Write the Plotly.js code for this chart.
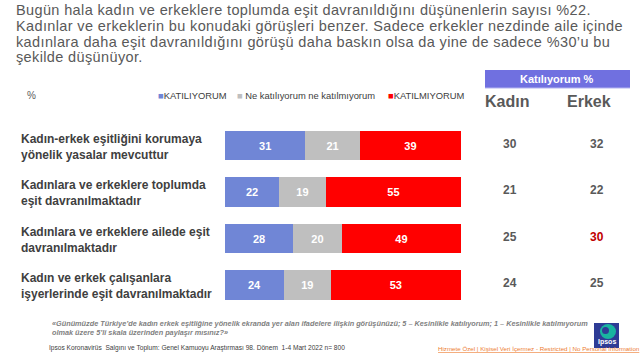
<!DOCTYPE html>
<html><head><meta charset="utf-8">
<script src="https://cdn.plot.ly/plotly-3.0.1.min.js"></script>
<style>html,body{margin:0;padding:0;background:#fff}#chart{width:640px;height:360px}</style>
</head><body><div id="chart"></div>
<script>
// ---- data ----
const categories = ["yasalar", "toplumda", "ailede", "isyerlerinde"];
const categoryLabels = [
  "Kadın-erkek eşitliğini korumaya<br>yönelik yasalar mevcuttur",
  "Kadınlara ve erkeklere toplumda<br>eşit davranılmaktadır",
  "Kadınlara ve erkeklere ailede eşit<br>davranılmaktadır",
  "Kadın ve erkek çalışanlara<br>işyerlerinde eşit davranılmaktadır"
];
const seriesNames = ["KATILIYORUM", "Ne katılıyorum ne katılmıyorum", "KATILMIYORUM"];
const katiliyorum = [31, 22, 28, 24];
const neKatiliyorumNeKatilmiyorum = [21, 19, 20, 19];
const katilmiyorum = [39, 55, 49, 53];
const kadinKatiliyorum = [30, 21, 25, 24];
const erkekKatiliyorum = [32, 22, 30, 25];
const erkekHighlight = [false, false, true, false];

const titleLines = [
  "Bugün hala kadın ve erkeklere toplumda eşit davranıldığını düşünenlerin sayısı %22.",
  "Kadınlar ve erkeklerin bu konudaki görüşleri benzer. Sadece erkekler nezdinde aile içinde",
  "kadınlara daha eşit davranıldığını görüşü daha baskın olsa da yine de sadece %30’u bu",
  "şekilde düşünüyor."
];

// ---- styling ----
const W = 640, H = 360;
const px = x => x / W;
const py = y => 1 - y / H;
const FONT = "Liberation Sans, Arial, sans-serif";
const colors = ["#7086D6", "#BFBFBF", "#FF0000"];
const seriesValues = [katiliyorum, neKatiliyorumNeKatilmiyorum, katilmiyorum];

const traces = seriesValues.map((vals, i) => ({
  type: "bar", orientation: "h",
  name: seriesNames[i],
  y: categories, x: vals,
  text: vals.map(String),
  textposition: "inside", insidetextanchor: "middle", textangle: 0, constraintext: "none",
  textfont: {family: FONT, size: 11, color: "#FFFFFF", weight: "bold"},
  marker: {color: colors[i], line: {width: 0}},
  hoverinfo: "skip", showlegend: false
}));

const annotations = [];
// title lines
const titleY = [10, 26, 42, 57];
titleLines.forEach((t, i) => {
  annotations.push({
    xref: "paper", yref: "paper", x: px(14), y: py(titleY[i]), xanchor: "left", yanchor: "middle",
    text: t, align: "left", showarrow: false, font: {family: FONT, size: 14.5, color: "#595959"}
  });
});
// category labels
categories.forEach((c, i) => {
  annotations.push({
    xref: "paper", yref: "y", x: px(19), y: c, xanchor: "left", yanchor: "middle",
    text: categoryLabels[i], align: "left", showarrow: false, yshift: -1,
    font: {family: FONT, size: 12, color: "#404040", weight: "bold"}
  });
  annotations.push({
    xref: "paper", yref: "y", x: px(510), y: c, xanchor: "center", yanchor: "middle",
    text: String(kadinKatiliyorum[i]), showarrow: false, yshift: 2,
    font: {family: FONT, size: 12, color: "#595959", weight: "bold"}
  });
  annotations.push({
    xref: "paper", yref: "y", x: px(597), y: c, xanchor: "center", yanchor: "middle",
    text: String(erkekKatiliyorum[i]), showarrow: false, yshift: 2,
    font: {family: FONT, size: 12, color: erkekHighlight[i] ? "#C00000" : "#595959", weight: "bold"}
  });
});

// legend (drawn as text)
const legendX = [156, 235, 386];
seriesNames.forEach((n, i) => {
  annotations.push({
    xref: "paper", yref: "paper", x: px(legendX[i]), y: py(96), xanchor: "left", yanchor: "middle",
    text: "<span style='color:" + colors[i] + "'>■</span>" + (i === 1 ? " " : "") + n,
    showarrow: false, font: {family: FONT, size: 9.4, color: "#404040"}
  });
});
annotations.push({xref: "paper", yref: "paper", x: px(25), y: py(96), xanchor: "left", yanchor: "middle",
  text: "%", showarrow: false, font: {family: FONT, size: 10, color: "#595959"}});

// header
annotations.push({xref: "paper", yref: "paper", x: px(557), y: py(79), xanchor: "center", yanchor: "middle",
  text: "Katılıyorum %", showarrow: false, font: {family: FONT, size: 11, color: "#FFFFFF", weight: "bold"}});
annotations.push({xref: "paper", yref: "paper", x: px(507), y: py(101), xanchor: "center", yanchor: "middle",
  text: "Kadın", showarrow: false, font: {family: FONT, size: 16, color: "#595959", weight: "bold"}});
annotations.push({xref: "paper", yref: "paper", x: px(589), y: py(101), xanchor: "center", yanchor: "middle",
  text: "Erkek", showarrow: false, font: {family: FONT, size: 16, color: "#595959", weight: "bold"}});

// footer
annotations.push({xref: "paper", yref: "paper", x: px(50), y: py(317), xanchor: "left", yanchor: "top",
  text: "«Günümüzde Türkiye’de kadın erkek eşitliğine yönelik ekranda yer alan ifadelere ilişkin görüşünüzü; 5 – Kesinlikle katılıyorum; 1 – Kesinlikle katılmıyorum<br>olmak üzere 5’li skala üzerinden paylaşır mısınız?»",
  align: "left", showarrow: false,
  font: {family: FONT, size: 7.3, color: "#7F7F7F", weight: "bold", style: "italic"}});
annotations.push({xref: "paper", yref: "paper", x: px(47), y: py(348), xanchor: "left", yanchor: "middle",
  text: "Ipsos Koronavirüs  Salgını ve Toplum: Genel Kamuoyu Araştırması 98. Dönem  1-4 Mart 2022 n= 800",
  showarrow: false, font: {family: FONT, size: 6.6, color: "#404040"}});
annotations.push({xref: "paper", yref: "paper", x: px(436), y: py(348), xanchor: "left", yanchor: "middle",
  text: "<u>Hizmete Özel | Kişisel Veri İçermez - Restricted | No Personal Information</u>",
  showarrow: false, font: {family: FONT, size: 6.2, color: "#ED7D31"}});
annotations.push({xref: "paper", yref: "paper", x: px(606.5), y: py(342), xanchor: "center", yanchor: "middle",
  text: "Ipsos", showarrow: false, font: {family: FONT, size: 7, color: "#FFFFFF", weight: "bold"}});

const shapes = [
  {type: "rect", xref: "paper", yref: "paper", x0: px(485), x1: px(630), y0: py(70), y1: py(88),
   fillcolor: "#7070E0", line: {width: 0}, layer: "below"},
  {type: "line", xref: "paper", yref: "paper", x0: px(485), x1: px(630), y0: py(88), y1: py(88),
   line: {color: "#B4B4F0", width: 1}},
  // Ipsos logo
  {type: "rect", xref: "paper", yref: "paper", x0: px(594), x1: px(619), y0: py(323), y1: py(348),
   fillcolor: "#2E3C96", line: {width: 0}, layer: "below"},
  {type: "circle", xref: "paper", yref: "paper", x0: px(600), x1: px(616), y0: py(324), y1: py(339),
   fillcolor: "#19B4A0", line: {width: 0}, layer: "below"},
  {type: "circle", xref: "paper", yref: "paper", x0: px(602), x1: px(609), y0: py(327), y1: py(334),
   fillcolor: "#2E3C96", line: {width: 0}, layer: "below"}
];

const layout = {
  width: W, height: H,
  margin: {l: 0, r: 0, t: 0, b: 0},
  paper_bgcolor: "#FFFFFF", plot_bgcolor: "rgba(0,0,0,0)",
  barmode: "stack", barnorm: "percent", bargap: 0.376,
  showlegend: false,
  xaxis: {domain: [px(225), px(461)], range: [0, 100], visible: false, fixedrange: true},
  yaxis: {domain: [py(308.25), py(122.25)], autorange: "reversed", visible: false, fixedrange: true,
    type: "category"},
  annotations: annotations,
  shapes: shapes,
  font: {family: FONT}
};

Plotly.newPlot("chart", traces, layout, {displayModeBar: false, staticPlot: true}).then(gd => {
  // slight letter spacing on the title lines, as in the reference
  gd.querySelectorAll("g.annotation").forEach(g => {
    const idx = +g.getAttribute("data-index");
    if (idx < titleLines.length) {
      const t = g.querySelector("text.annotation-text");
      if (t) t.style.letterSpacing = "0.37px";
    }
  });
});
</script>
</body></html>
